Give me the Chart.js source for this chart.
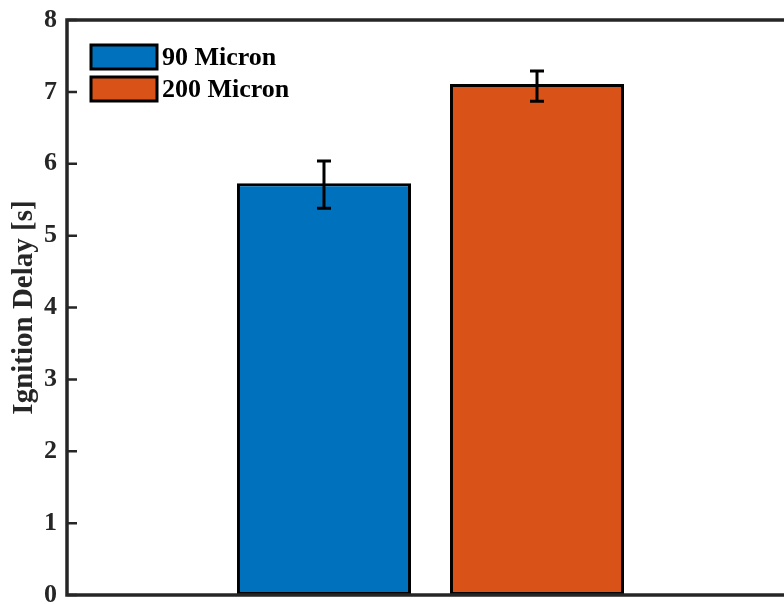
<!DOCTYPE html>
<html>
<head>
<meta charset="utf-8">
<script src="https://cdn.jsdelivr.net/npm/chart.js@4.4.0/dist/chart.umd.min.js"></script>
<style>
  html, body { margin: 0; padding: 0; background: #ffffff; overflow: hidden; width: 784px; height: 604px; }
  #wrap { position: absolute; left: 0; top: 0; width: 800px; height: 620px; }
</style>
</head>
<body>
<div id="wrap"><canvas id="c" width="800" height="620"></canvas></div>
<script>
// ---- data ----
const categories = [''];
const seriesLabels = ['90 Micron', '200 Micron'];
const meanValues = [5.73, 7.11];
const errLow = [5.38, 6.87];
const errHigh = [6.04, 7.29];
const seriesColors = ['#0072BD', '#D95319'];
const yTicks = [0, 1, 2, 3, 4, 5, 6, 7, 8];

const FONT = "'Liberation Serif', 'Times New Roman', serif";
const AXIS_COLOR = '#262626';

const datasets = seriesLabels.map((lab, i) => ({
  label: lab,
  data: [meanValues[i]],
  errLow: [errLow[i]],
  errHigh: [errHigh[i]],
  backgroundColor: seriesColors[i],
  borderColor: '#000000',
  borderWidth: 3,
  borderSkipped: false,
  categoryPercentage: 0.586,
  barPercentage: 0.817
}));

const errorBarPlugin = {
  id: 'errorBars',
  afterDatasetsDraw(chart) {
    const ctx = chart.ctx;
    const y = chart.scales.y;
    ctx.save();
    ctx.strokeStyle = '#000000';
    ctx.lineWidth = 3;
    ctx.lineCap = 'butt';
    chart.data.datasets.forEach((ds, i) => {
      const meta = chart.getDatasetMeta(i);
      meta.data.forEach((bar, j) => {
        const x = bar.x;
        const yl = y.getPixelForValue(ds.errLow[j]);
        const yh = y.getPixelForValue(ds.errHigh[j]);
        const cap = 7;
        ctx.beginPath();
        ctx.moveTo(x, yl); ctx.lineTo(x, yh);
        ctx.moveTo(x - cap, yl); ctx.lineTo(x + cap, yl);
        ctx.moveTo(x - cap, yh); ctx.lineTo(x + cap, yh);
        ctx.stroke();
      });
    });
    ctx.restore();
  }
};

const boxPlugin = {
  id: 'axisBox',
  afterDraw(chart) {
    const ctx = chart.ctx;
    const a = chart.chartArea;
    const y = chart.scales.y;
    ctx.save();
    ctx.strokeStyle = AXIS_COLOR;
    ctx.lineWidth = 2.5;
    y.ticks.forEach(t => {
      const py = y.getPixelForValue(t.value);
      ctx.beginPath();
      ctx.moveTo(a.left, py); ctx.lineTo(a.left + 10, py);
      ctx.moveTo(a.right, py); ctx.lineTo(a.right - 10, py);
      ctx.stroke();
    });
    ctx.lineWidth = 3.5;
    ctx.strokeRect(a.left, a.top, a.right - a.left, a.bottom - a.top);
    ctx.restore();
  }
};

const legendPlugin = {
  id: 'insideLegend',
  afterDraw(chart) {
    const ctx = chart.ctx;
    ctx.save();
    const x0 = 91, w = 66, h = 24, gap = 8;
    let yTop = 45;
    ctx.font = "bold 26px " + FONT;
    ctx.textBaseline = 'middle';
    ctx.textAlign = 'left';
    chart.data.datasets.forEach((ds, i) => {
      ctx.fillStyle = ds.backgroundColor;
      ctx.fillRect(x0, yTop, w, h);
      ctx.strokeStyle = '#000000';
      ctx.lineWidth = 3;
      ctx.strokeRect(x0, yTop, w, h);
      ctx.fillStyle = '#000000';
      ctx.fillText(ds.label, x0 + w + 5, yTop + h / 2 + 1);
      yTop += h + gap;
    });
    ctx.restore();
  }
};

new Chart(document.getElementById('c'), {
  type: 'bar',
  data: { labels: categories, datasets: datasets },
  options: {
    responsive: false,
    animation: false,
    layout: { padding: { left: 0, right: 6, top: 20, bottom: 25 } },
    plugins: {
      legend: { display: false },
      tooltip: { enabled: false }
    },
    scales: {
      x: {
        type: 'category',
        display: false,
        offset: true,
        grid: { display: false }
      },
      y: {
        min: 0,
        max: 8,
        afterBuildTicks(scale) { scale.ticks = yTicks.map(v => ({ value: v })); },
        afterFit(scale) { scale.width = 67; scale.paddingTop = 0; scale.paddingBottom = 0; },
        grid: { display: false, drawTicks: false },
        border: { display: false },
        ticks: {
          padding: 10,
          color: '#262626',
          font: { family: FONT, size: 26, weight: 'bold' }
        },
        title: {
          display: true,
          text: 'Ignition Delay [s]',
          color: '#262626',
          padding: { top: 7, bottom: 0 },
          font: { family: FONT, size: 29, weight: 'bold' }
        }
      }
    }
  },
  plugins: [errorBarPlugin, boxPlugin, legendPlugin]
});
</script>
</body>
</html>
